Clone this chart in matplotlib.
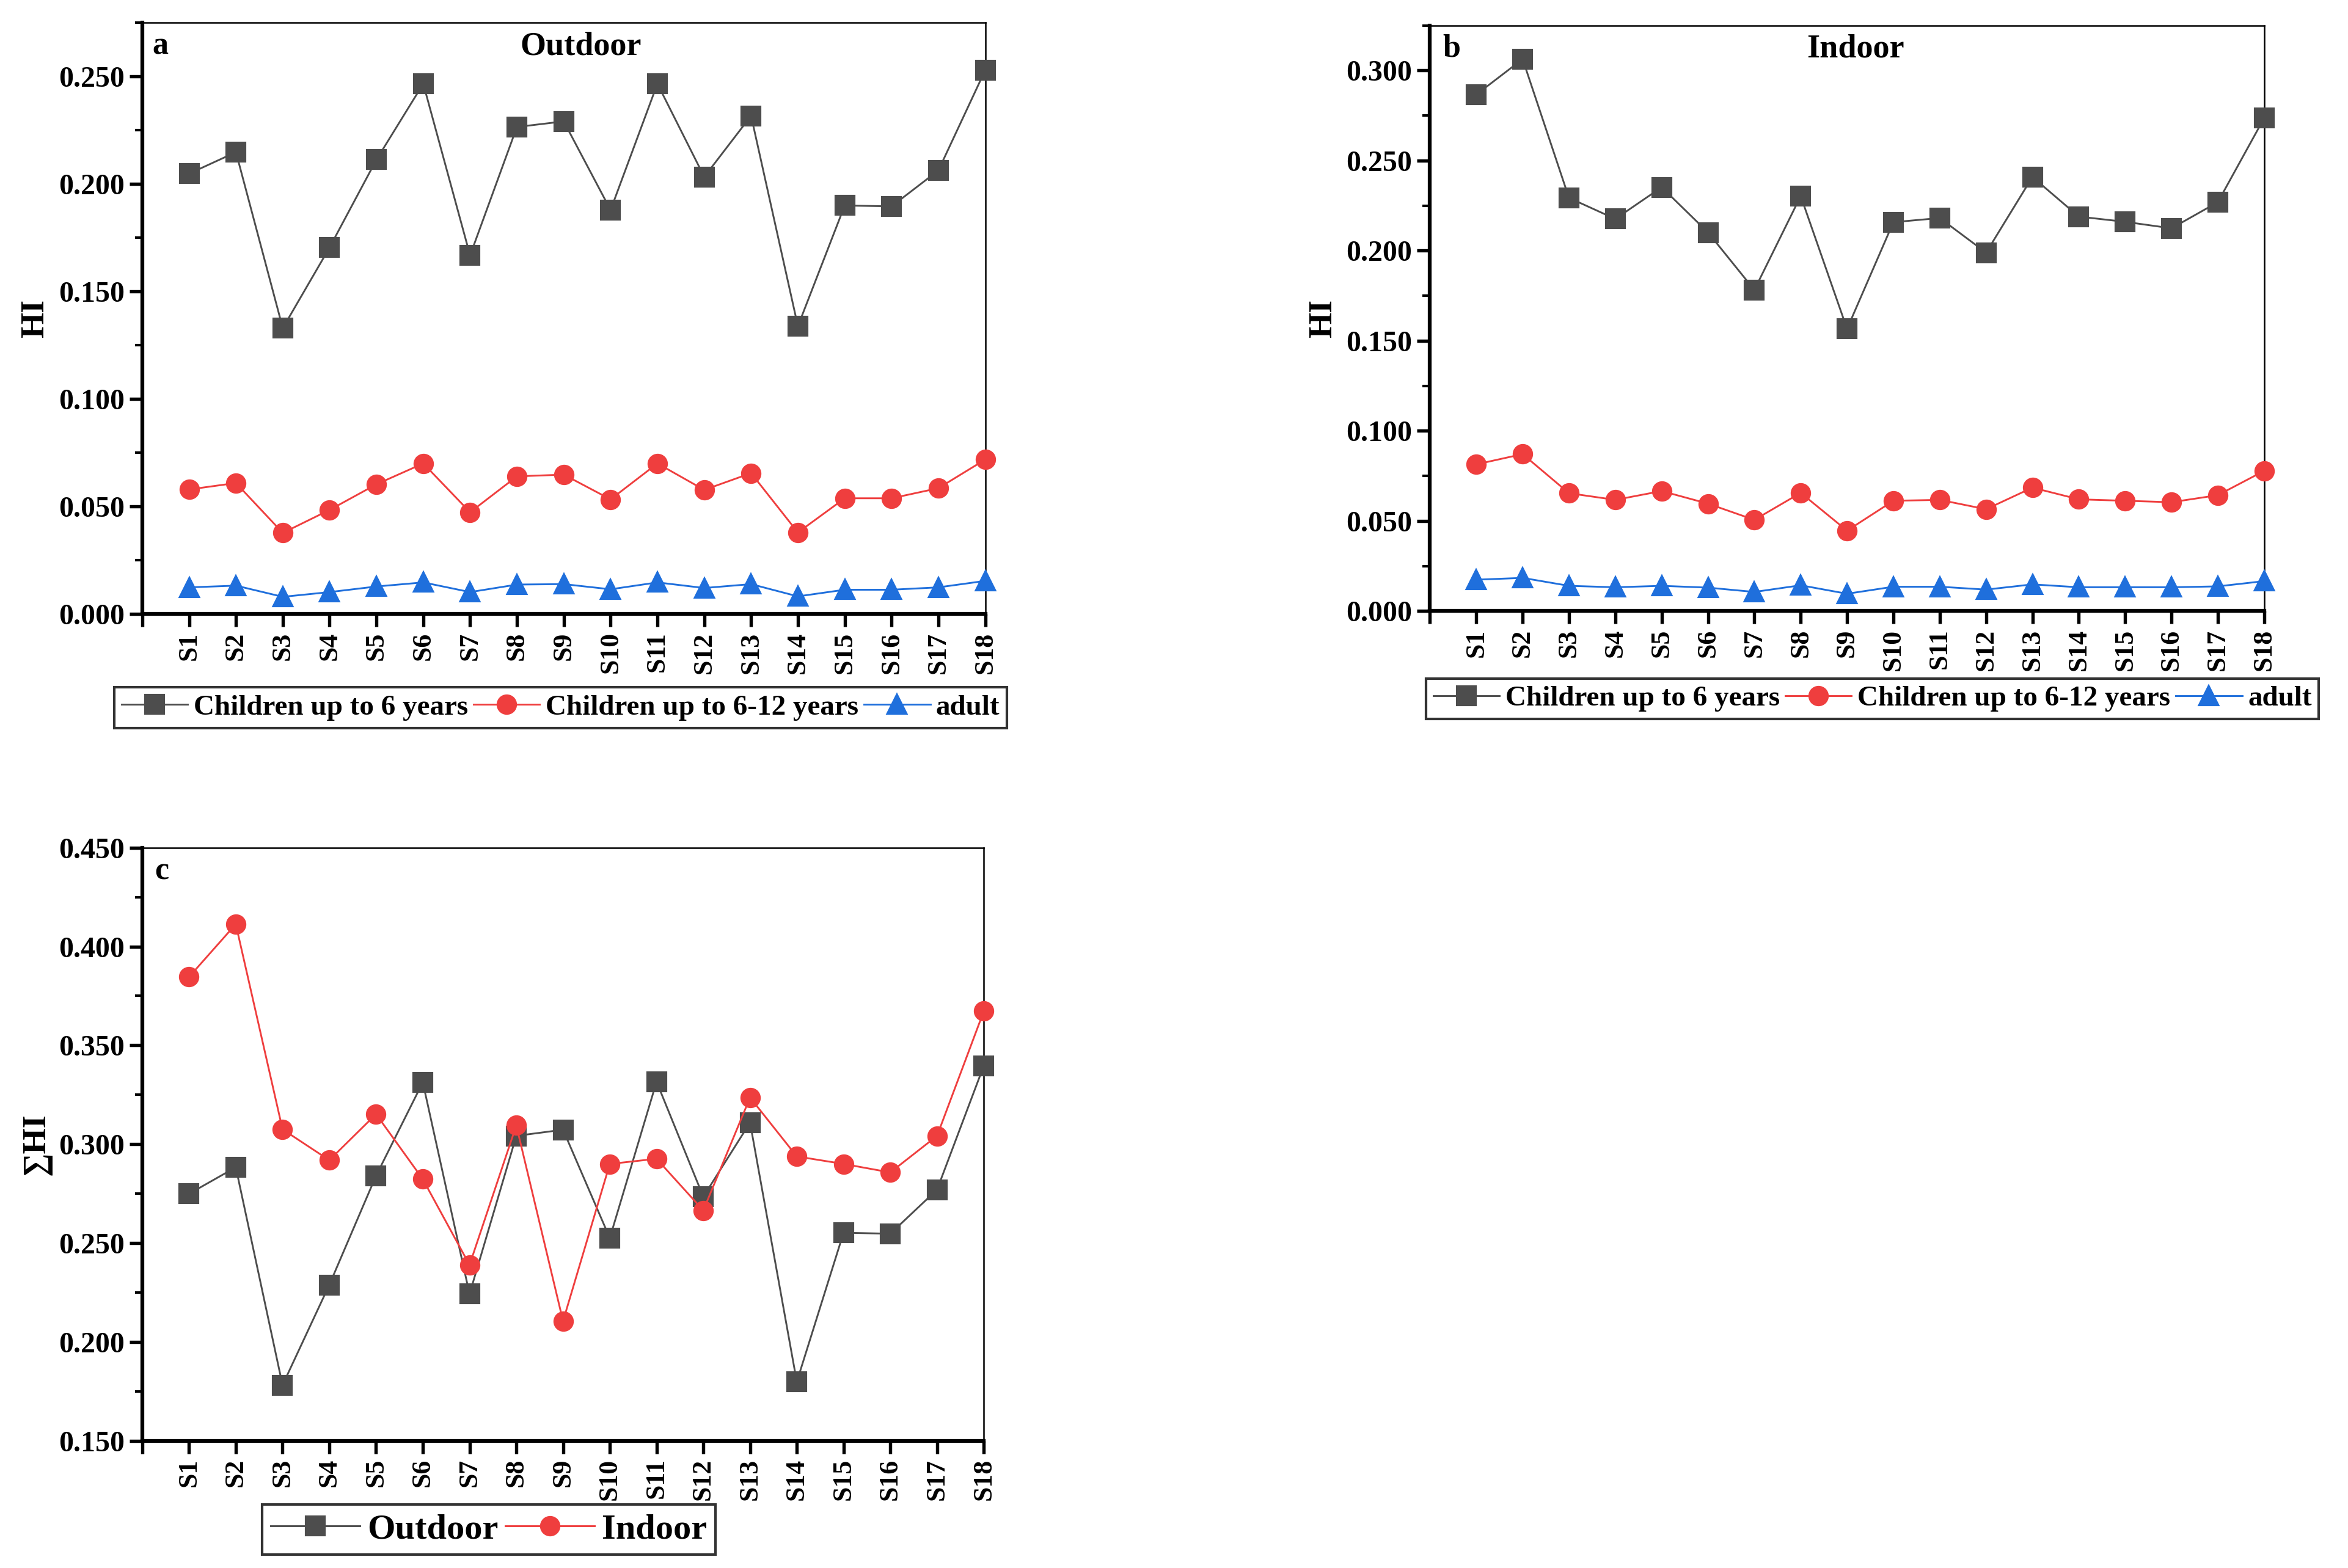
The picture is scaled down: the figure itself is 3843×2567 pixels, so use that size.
import matplotlib
matplotlib.use("Agg")
import matplotlib.pyplot as plt
from matplotlib.ticker import MultipleLocator, FormatStrFormatter

# Sitios
sitios = [f"S{i}" for i in range(1, 19)]

# Panel a: exterior
out_ninos6 = [0.2047, 0.2147, 0.1329, 0.1704, 0.2112, 0.2465, 0.1667, 0.2264, 0.2290,
              0.1878, 0.2465, 0.2032, 0.2316, 0.1338, 0.1899, 0.1895, 0.2062, 0.2528]
out_ninos612 = [0.0579, 0.0609, 0.0377, 0.0484, 0.0603, 0.0700, 0.0473, 0.0640, 0.0648,
                0.0533, 0.0700, 0.0577, 0.0655, 0.0379, 0.0538, 0.0538, 0.0585, 0.0718]
out_adulto = [0.0124, 0.0132, 0.0080, 0.0102, 0.0128, 0.0147, 0.0102, 0.0137, 0.0139,
              0.0115, 0.0147, 0.0121, 0.0139, 0.0082, 0.0113, 0.0113, 0.0124, 0.0154]

# Panel b: interior
in_ninos6 = [0.2866, 0.3063, 0.2293, 0.2176, 0.2352, 0.2101, 0.1782, 0.2303, 0.1566,
             0.2158, 0.2181, 0.1989, 0.2409, 0.2189, 0.2160, 0.2124, 0.2269, 0.2736]
in_ninos612 = [0.0814, 0.0871, 0.0654, 0.0617, 0.0666, 0.0596, 0.0506, 0.0656, 0.0446,
               0.0612, 0.0617, 0.0565, 0.0685, 0.0620, 0.0612, 0.0604, 0.0643, 0.0778]
in_adulto = [0.0174, 0.0184, 0.0140, 0.0132, 0.0140, 0.0130, 0.0106, 0.0143, 0.0096,
             0.0135, 0.0135, 0.0119, 0.0148, 0.0132, 0.0132, 0.0132, 0.0137, 0.0166]

# Panel c: suma de HI
suma_out = [0.2749, 0.2883, 0.1781, 0.2288, 0.2840, 0.3313, 0.2242, 0.3042, 0.3073,
            0.2525, 0.3316, 0.2734, 0.3109, 0.1798, 0.2552, 0.2547, 0.2770, 0.3397]
suma_in = [0.3846, 0.4113, 0.3075, 0.2919, 0.3152, 0.2823, 0.2389, 0.3095, 0.2105,
           0.2900, 0.2926, 0.2665, 0.3236, 0.2938, 0.2900, 0.2857, 0.3042, 0.3673]

GRIS = "#4d4d4d"
ROJO = "#ef3e3e"
AZUL = "#1f6fdc"

plt.rcParams["font.family"] = ["Liberation Serif", "DejaVu Serif"]
plt.rcParams["font.weight"] = "bold"
plt.rcParams["axes.labelweight"] = "bold"

fig = plt.figure(figsize=(3843 / 300, 2567 / 300), dpi=300)
ax_a = fig.add_axes([0.0606, 0.6084, 0.3590, 0.3773])
ax_b = fig.add_axes([0.6090, 0.6103, 0.3553, 0.3735])
ax_c = fig.add_axes([0.0606, 0.0812, 0.3584, 0.3782])

x = list(range(1, 19))


def estilo(ax, ymin, ymax, paso, ylabel):
    """Ejes al estilo de Origin."""
    ax.set_xlim(0, 18)
    ax.set_ylim(ymin, ymax)
    ax.set_xticks(range(0, 19))
    ax.set_xticklabels([""] + sitios, rotation=90, fontsize=10.5, fontweight="bold")
    ax.yaxis.set_major_locator(MultipleLocator(paso))
    ax.yaxis.set_minor_locator(MultipleLocator(paso / 2))
    ax.yaxis.set_major_formatter(FormatStrFormatter("%.3f"))
    for lbl in ax.get_yticklabels():
        lbl.set_fontsize(11.5)
        lbl.set_fontweight("bold")
    ax.tick_params(axis="both", which="major", direction="out", length=5, width=1.3, pad=2)
    ax.tick_params(axis="y", which="minor", direction="out", length=3, width=1.0)
    ax.spines["left"].set_linewidth(1.5)
    ax.spines["bottom"].set_linewidth(1.5)
    ax.spines["top"].set_linewidth(0.6)
    ax.spines["right"].set_linewidth(0.6)
    ax.set_ylabel(ylabel, fontsize=13, fontweight="bold", labelpad=3)


def dibujar(ax, datos):
    for y, c, m, lab in datos:
        ax.plot(x, y, color=c, marker=m, markersize=7, linewidth=0.7,
                label=lab, clip_on=False, zorder=3)


def leyenda(ax, centro, ncol, tam, largo):
    ley = fig.legend(*ax.get_legend_handles_labels(), loc="center", bbox_to_anchor=centro,
                     ncol=ncol, frameon=True, fancybox=False, edgecolor="black",
                     fontsize=tam, handlelength=largo, handletextpad=0.2,
                     columnspacing=0.2, borderpad=0.25, borderaxespad=0)
    ley.get_frame().set_linewidth(1.0)


etiquetas = ["Children up to 6 years", "Children up to 6-12 years", "adult"]

# Panel a
dibujar(ax_a, [(out_ninos6, GRIS, "s", etiquetas[0]),
               (out_ninos612, ROJO, "o", etiquetas[1]),
               (out_adulto, AZUL, "^", etiquetas[2])])
estilo(ax_a, 0, 0.275, 0.05, "HI")
ax_a.text(0.012, 0.985, "a", transform=ax_a.transAxes, fontsize=12.5, fontweight="bold", va="top")
ax_a.text(0.52, 0.985, "Outdoor", transform=ax_a.transAxes, fontsize=13,
          fontweight="bold", va="top", ha="center")
leyenda(ax_a, (0.2388, 0.5487), 3, 11.3, 2.3)

# Panel b
dibujar(ax_b, [(in_ninos6, GRIS, "s", etiquetas[0]),
               (in_ninos612, ROJO, "o", etiquetas[1]),
               (in_adulto, AZUL, "^", etiquetas[2])])
estilo(ax_b, 0, 0.325, 0.05, "HI")
ax_b.text(0.015, 0.985, "b", transform=ax_b.transAxes, fontsize=12.5, fontweight="bold", va="top")
ax_b.text(0.51, 0.985, "Indoor", transform=ax_b.transAxes, fontsize=13,
          fontweight="bold", va="top", ha="center")
leyenda(ax_b, (0.7975, 0.5544), 3, 11.3, 2.3)

# Panel c
dibujar(ax_c, [(suma_out, GRIS, "s", "Outdoor"),
               (suma_in, ROJO, "o", "Indoor")])
estilo(ax_c, 0.15, 0.45, 0.05, "∑HI")
ax_c.text(0.015, 0.985, "c", transform=ax_c.transAxes, fontsize=12.5, fontweight="bold", va="top")
leyenda(ax_c, (0.2082, 0.0245), 2, 14, 2.5)

fig.savefig("out.png", dpi=300)
